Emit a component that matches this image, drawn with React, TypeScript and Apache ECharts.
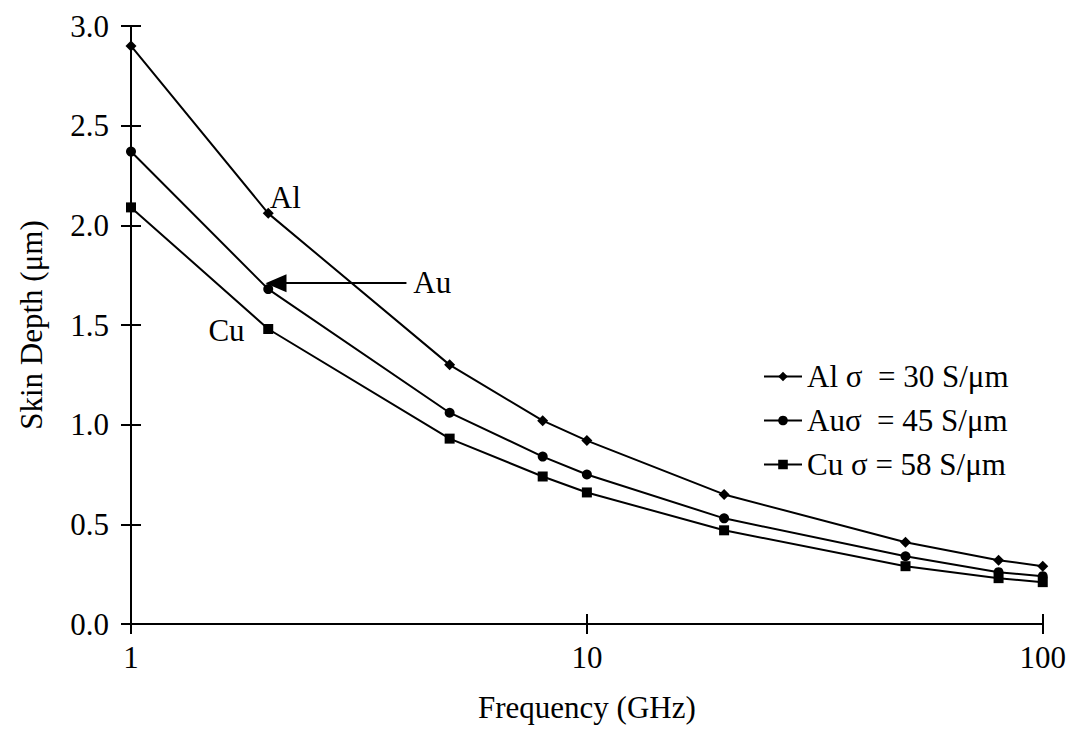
import React, { useEffect, useRef } from "react";
import * as echarts from "echarts";

const frequencies = [1, 2, 5, 8, 10, 20, 50, 80, 100];
const alValues = [2.9, 2.06, 1.3, 1.02, 0.92, 0.65, 0.41, 0.32, 0.29];
const auValues = [2.37, 1.68, 1.06, 0.84, 0.75, 0.53, 0.34, 0.26, 0.24];
const cuValues = [2.09, 1.48, 0.93, 0.74, 0.66, 0.47, 0.29, 0.23, 0.21];
const seriesNames = ["Al σ  = 30 S/μm", "Auσ  = 45 S/μm", "Cu σ = 58 S/μm"];
const xTicks = [1, 10, 100];
const yTicks = [0, 0.5, 1, 1.5, 2, 2.5, 3];

const FONT = "'Liberation Serif', 'Times New Roman', serif";

export default function App() {
  const ref = useRef<HTMLDivElement>(null);
  useEffect(() => {
    if (!ref.current) return;
    const chart = echarts.init(ref.current, undefined, { renderer: "svg" });
    const pair = (vals: number[]) => frequencies.map((f, i) => [f, vals[i]]);
    const lineStyle = { color: "#000", width: 2 };
    const axisLine = { show: true, lineStyle: { color: "#000", width: 2 } };
    const tickStyle = { color: "#000", width: 2 };
    const textBase = { color: "#000", fontFamily: FONT, fontSize: 31 };
    const labelPoint = (name: string, coord: number[]) => ({
      name,
      coord,
      symbol: "circle",
      symbolSize: 1,
      itemStyle: { color: "rgba(0,0,0,0)" },
      label: { show: true, position: "inside", formatter: name, ...textBase },
    });
    chart.setOption({
      animation: false,
      backgroundColor: "#fff",
      grid: { left: 117, right: 18, top: 18, bottom: 102, containLabel: false },
      legend: {
        orient: "vertical",
        left: 750,
        top: 348,
        itemWidth: 38,
        itemHeight: 12,
        itemGap: 13,
        textStyle: { ...textBase },
        data: seriesNames,
      },
      xAxis: [
        {
          type: "log",
          logBase: 10,
          min: 1,
          max: 100,
          name: "Frequency (GHz)",
          nameLocation: "middle",
          nameGap: 68,
          nameTextStyle: textBase,
          axisLine,
          axisTick: { show: true, length: 10, lineStyle: tickStyle },
          minorTick: { show: false },
          splitLine: { show: false },
          axisLabel: {
            ...textBase,
            margin: 18,
            formatter: (v: number) => (xTicks.includes(v) ? String(v) : ""),
          },
        },
        {
          type: "log",
          logBase: 10,
          min: 1,
          max: 100,
          position: "bottom",
          axisLine: { show: true, lineStyle: { color: "#000", width: 2 } },
          axisTick: { show: true, inside: true, length: 10, lineStyle: tickStyle },
          axisLabel: { show: false },
          splitLine: { show: false },
        },
      ],
      yAxis: [
        {
          type: "value",
          min: 0,
          max: 3,
          interval: 0.5,
          name: "Skin Depth (μm)",
          nameLocation: "middle",
          nameGap: 84,
          nameTextStyle: textBase,
          axisLine,
          axisTick: { show: true, length: 10, lineStyle: tickStyle },
          splitLine: { show: false },
          axisLabel: {
            ...textBase,
            margin: 22,
            formatter: (v: number) => (yTicks.includes(v) ? v.toFixed(1) : ""),
          },
        },
        {
          type: "value",
          min: 0,
          max: 3,
          interval: 0.5,
          position: "left",
          axisLine: { show: true, lineStyle: { color: "#000", width: 2 } },
          axisTick: { show: true, inside: true, length: 10, lineStyle: tickStyle },
          axisLabel: { show: false },
          splitLine: { show: false },
        },
      ],
      series: [
        {
          name: seriesNames[0],
          type: "line",
          data: pair(alValues),
          symbol: "diamond",
          symbolSize: 11,
          itemStyle: { color: "#000" },
          lineStyle,
          markPoint: { data: [labelPoint("Al", [2.18, 2.14])] },
        },
        {
          name: seriesNames[1],
          type: "line",
          data: pair(auValues),
          symbol: "circle",
          symbolSize: 10,
          itemStyle: { color: "#000" },
          lineStyle,
          markPoint: { data: [labelPoint("Au", [4.58, 1.715])] },
          markLine: {
            silent: true,
            symbol: ["none", "triangle"],
            symbolSize: [18, 21],
            label: { show: false },
            lineStyle: { color: "#000", width: 2, type: "solid" },
            data: [[{ coord: [4.02, 1.71] }, { coord: [2.08, 1.71] }]],
          },
        },
        {
          name: seriesNames[2],
          type: "line",
          data: pair(cuValues),
          symbol: "rect",
          symbolSize: 10,
          itemStyle: { color: "#000" },
          lineStyle,
          markPoint: { data: [labelPoint("Cu", [1.62, 1.47])] },
        },
      ],
    });
    return () => chart.dispose();
  }, []);
  return <div ref={ref} style={{ width: 1061, height: 720 }} />;
}
